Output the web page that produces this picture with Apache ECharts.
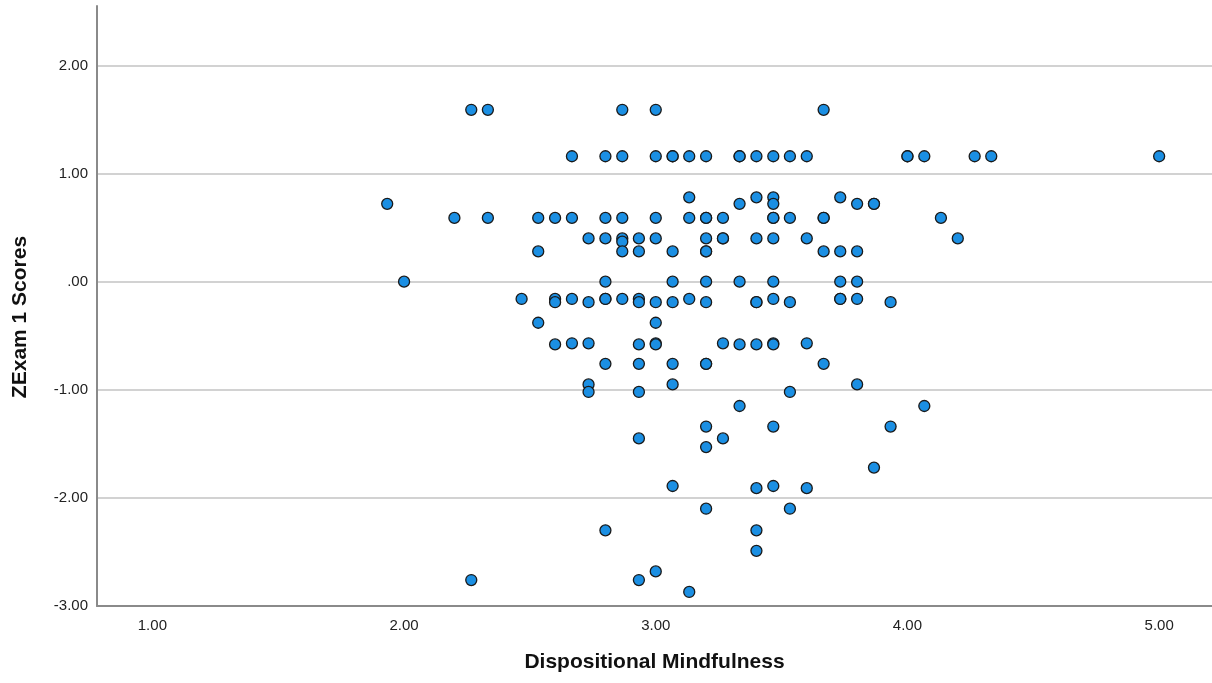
<!DOCTYPE html>
<html>
<head>
<meta charset="utf-8">
<script src="https://cdn.jsdelivr.net/npm/echarts@6/dist/echarts.min.js"></script>
<style>
html,body{margin:0;padding:0;background:#fff;}
#chart{width:1212px;height:683px;}
</style>
</head>
<body>
<div id="chart"></div>
<script>
// Dispositional Mindfulness (x) and ZExam 1 Scores (y), grouped by row
const mindfulness = [
  2.267, 2.333, 2.867, 3.000, 3.667,
  2.667, 2.800, 2.867, 3.000, 3.067, 3.067, 3.133, 3.200, 3.333, 3.333, 3.400, 3.467, 3.533, 3.600, 4.000, 4.000, 4.067, 4.267, 4.333, 5.000,
  3.133, 3.400, 3.467, 3.733,
  1.933, 3.333, 3.467, 3.800, 3.867, 3.867,
  2.200, 2.333, 2.533, 2.600, 2.667, 2.800, 2.867, 3.000, 3.133, 3.200, 3.200, 3.267, 3.467, 3.467, 3.533, 3.667, 3.667, 4.133,
  2.733, 2.800, 2.867, 2.867, 2.933, 3.000, 3.200, 3.267, 3.267, 3.400, 3.467, 3.600, 4.200,
  2.533, 2.867, 2.933, 3.067, 3.200, 3.200, 3.667, 3.733, 3.800,
  2.000, 2.800, 3.067, 3.200, 3.333, 3.467, 3.733, 3.800,
  2.467, 2.600, 2.667, 2.800, 2.800, 2.867, 2.933, 3.133, 3.467, 3.733, 3.733, 3.800,
  2.600, 2.733, 2.933, 3.000, 3.067, 3.200, 3.400, 3.400, 3.533, 3.933,
  2.533, 3.000,
  2.667, 2.733, 3.000, 3.267, 3.467, 3.600,
  2.600, 2.933, 3.000, 3.333, 3.400, 3.467,
  2.800, 2.933, 3.067, 3.200, 3.200, 3.667,
  2.733, 3.067, 3.800,
  2.733, 2.933, 3.533,
  3.333, 4.067,
  3.200, 3.467, 3.933,
  2.933, 3.267,
  3.200,
  3.867,
  3.067, 3.467,
  3.400, 3.600,
  3.200, 3.533,
  2.800, 3.400,
  3.400,
  3.000,
  2.267, 2.933,
  3.133
];
const zExam1 = [
  1.59, 1.59, 1.59, 1.59, 1.59,
  1.16, 1.16, 1.16, 1.16, 1.16, 1.16, 1.16, 1.16, 1.16, 1.16, 1.16, 1.16, 1.16, 1.16, 1.16, 1.16, 1.16, 1.16, 1.16, 1.16,
  0.78, 0.78, 0.78, 0.78,
  0.72, 0.72, 0.72, 0.72, 0.72, 0.72,
  0.59, 0.59, 0.59, 0.59, 0.59, 0.59, 0.59, 0.59, 0.59, 0.59, 0.59, 0.59, 0.59, 0.59, 0.59, 0.59, 0.59, 0.59,
  0.40, 0.40, 0.40, 0.37, 0.40, 0.40, 0.40, 0.40, 0.40, 0.40, 0.40, 0.40, 0.40,
  0.28, 0.28, 0.28, 0.28, 0.28, 0.28, 0.28, 0.28, 0.28,
  0.00, 0.00, 0.00, 0.00, 0.00, 0.00, 0.00, 0.00,
  -0.16, -0.16, -0.16, -0.16, -0.16, -0.16, -0.16, -0.16, -0.16, -0.16, -0.16, -0.16,
  -0.19, -0.19, -0.19, -0.19, -0.19, -0.19, -0.19, -0.19, -0.19, -0.19,
  -0.38, -0.38,
  -0.57, -0.57, -0.57, -0.57, -0.57, -0.57,
  -0.58, -0.58, -0.58, -0.58, -0.58, -0.58,
  -0.76, -0.76, -0.76, -0.76, -0.76, -0.76,
  -0.95, -0.95, -0.95,
  -1.02, -1.02, -1.02,
  -1.15, -1.15,
  -1.34, -1.34, -1.34,
  -1.45, -1.45,
  -1.53,
  -1.72,
  -1.89, -1.89,
  -1.91, -1.91,
  -2.10, -2.10,
  -2.30, -2.30,
  -2.49,
  -2.68,
  -2.76, -2.76,
  -2.87
];
const xTickValues = [1, 2, 3, 4, 5];
const yTickValues = [-3, -2, -1, 0, 1, 2];
const xTitle = 'Dispositional Mindfulness';
const yTitle = 'ZExam 1 Scores';

const points = mindfulness.map((x, i) => [x, zExam1[i]]);

function fmt(v) {
  if (Math.abs(v) < 1e-9) return '.00';
  return v.toFixed(2);
}

const chart = echarts.init(document.getElementById('chart'), null, {renderer: 'canvas'});
chart.setOption({
  animation: false,
  backgroundColor: '#ffffff',
  grid: {left: 97, right: 0, top: 6, bottom: 77, containLabel: false, outerBoundsMode: 'none'},
  xAxis: {
    type: 'value',
    min: 0.78,
    max: 5.21,
    name: xTitle,
    nameLocation: 'middle',
    nameGap: 46,
    nameTextStyle: {fontFamily: 'Liberation Sans, Arial, sans-serif', fontSize: 21, fontWeight: 'bold', color: '#111'},
    axisLine: {show: true, onZero: false, lineStyle: {color: '#8a8a8a', width: 2}},
    axisTick: {show: false, customValues: xTickValues},
    axisLabel: {
      customValues: xTickValues,
      formatter: fmt,
      margin: 12,
      fontFamily: 'Liberation Sans, Arial, sans-serif',
      fontSize: 15,
      color: '#222'
    },
    splitLine: {show: false}
  },
  yAxis: {
    type: 'value',
    min: -3,
    max: 2.55,
    name: yTitle,
    nameLocation: 'middle',
    nameGap: 66,
    nameTextStyle: {fontFamily: 'Liberation Sans, Arial, sans-serif', fontSize: 21, fontWeight: 'bold', color: '#111', padding: [0, 22, 0, 0]},
    axisLine: {show: true, onZero: false, lineStyle: {color: '#8a8a8a', width: 2}},
    axisTick: {show: false, customValues: yTickValues},
    axisLabel: {
      customValues: yTickValues,
      formatter: fmt,
      margin: 9,
      padding: [8, 0, 0, 0],
      fontFamily: 'Liberation Sans, Arial, sans-serif',
      fontSize: 15,
      color: '#222'
    },
    splitLine: {show: true, lineStyle: {color: '#d2d2d2', width: 2}}
  },
  series: [{
    type: 'scatter',
    data: points,
    symbol: 'circle',
    symbolSize: 11,
    itemStyle: {color: '#1b8fe3', borderColor: '#1a1a1a', borderWidth: 1.3, opacity: 1}
  }]
});
</script>
</body>
</html>
